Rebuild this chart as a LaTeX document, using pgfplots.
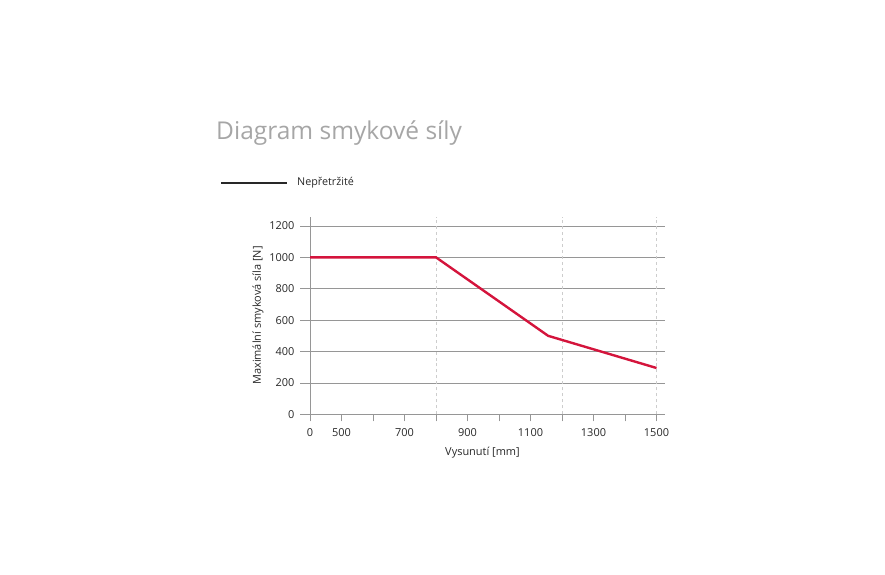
\documentclass[border=0pt]{standalone}
\usepackage{pgfplots}
\pgfplotsset{compat=1.18}
\usepackage{fontspec}
\setmainfont{Open Sans}

\definecolor{curve}{RGB}{212,20,60}
\definecolor{gridgray}{RGB}{150,150,150}
\definecolor{dashgray}{RGB}{205,205,205}
\definecolor{txt}{RGB}{40,40,40}

\begin{document}
\begin{tikzpicture}
\useasboundingbox (0bp,0bp) rectangle (885bp,575bp);

% title and legend
\node[anchor=base west, font=\fontsize{24.6}{28}\selectfont, text=gray!70, inner sep=0]
  at (216bp,435bp) {Diagram smykové síly};
\draw[txt, line width=1.8bp] (221bp,392bp) -- (287bp,392bp);
\node[anchor=west, font=\fontsize{10.8}{12}\selectfont, text=txt, inner sep=0]
  at (297bp,392bp) {Nepřetržité};

% x axis is broken: 0..500 takes one step, 500..1500 is linear,
% so x values are plotted as position = extension - 400 (0 stays at 0)
\begin{axis}[
    at={(300bp,160.7bp)}, anchor=south west,
    scale only axis,
    width=365bp, height=197.6bp,
    xmin=-31.75, xmax=1127,
    ymin=0, ymax=1259,
    axis line style={draw=none},
    xtick={0,100,...,1100},
    xticklabels={0,500,,700,,900,,1100,,1300,,1500},
    ytick={0,200,...,1200},
    xtick pos=lower,
    tick align=outside,
    major tick length=7bp,
    xtick style={gridgray, line width=0.6bp},
    ytick style={draw=none},
    ymajorgrids,
    grid style={gridgray, line width=0.6bp},
    tick label style={font=\fontsize{11}{12}\selectfont, text=txt},
    yticklabel style={xshift=5bp},
    xticklabel style={yshift=-4bp},
    /pgf/number format/assume math mode=true,
    /pgf/number format/1000 sep={},
    xlabel={Vysunutí [mm]},
    ylabel={Maximální smyková síla [N]},
    label style={font=\fontsize{11}{12}\selectfont, text=txt},
    xlabel style={yshift=-3bp},
    ylabel style={yshift=-1bp},
    clip=false,
]
% vertical dashed guide lines (800, 1200, 1500 mm) and y axis line
\draw[dashgray, dashed, line width=0.6bp] (axis cs:400,0) -- (axis cs:400,1259);
\draw[dashgray, dashed, line width=0.6bp] (axis cs:800,0) -- (axis cs:800,1259);
\draw[dashgray, dashed, line width=0.6bp] (axis cs:1100,0) -- (axis cs:1100,1259);
\draw[gridgray, line width=0.6bp] (axis cs:0,0) -- (axis cs:0,1259);

% extension 0, 800, 1156, 1500 mm
\addplot[curve, line width=2.4bp] coordinates {
    (0,1000) (400,1000) (756,500) (1100,295)
};
\end{axis}
\end{tikzpicture}
\end{document}
